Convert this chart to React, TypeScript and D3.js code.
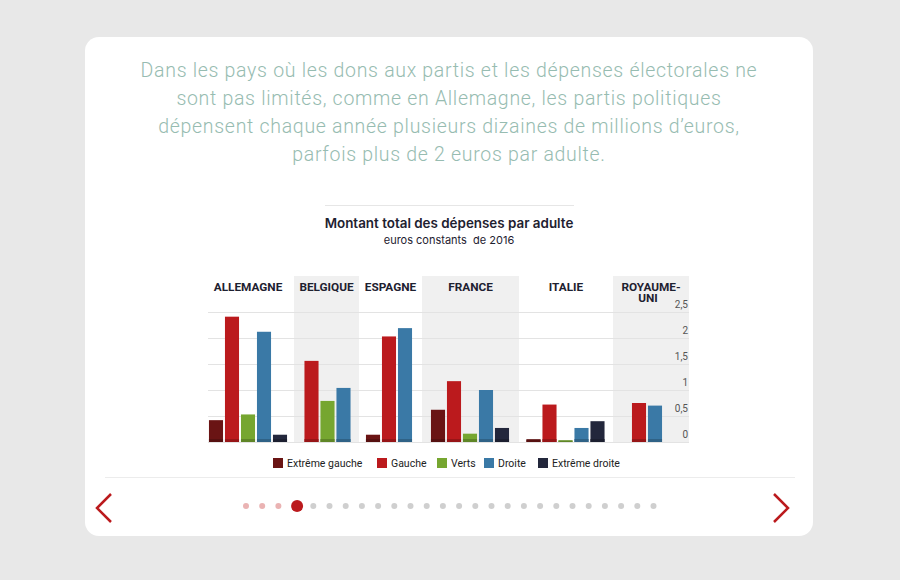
import React, { useEffect, useRef } from 'react'
import * as d3 from 'd3'

// Dépenses par adulte (euros constants de 2016), null = pas de parti de cette famille
const countries = ['ALLEMAGNE', 'BELGIQUE', 'ESPAGNE', 'FRANCE', 'ITALIE', 'ROYAUME-UNI']
const series = ['Extrême gauche', 'Gauche', 'Verts', 'Droite', 'Extrême droite']
const extremeGauche = [0.42, null, 0.14, 0.62, 0.05, null]
const gauche = [2.41, 1.56, 2.03, 1.17, 0.72, 0.75]
const verts = [0.53, 0.79, null, 0.16, 0.03, null]
const droite = [2.12, 1.04, 2.19, 1.0, 0.27, 0.7]
const extremeDroite = [0.14, null, null, 0.27, 0.4, null]
const yTicks = [0, 0.5, 1, 1.5, 2, 2.5]

const colors = ['#6a1414', '#bb1a1d', '#76a630', '#3a79a6', '#23273c']
const values = [extremeGauche, gauche, verts, droite, extremeDroite]

// panel layout (x pixels)
const panelEdges = [202, 294, 359, 422, 519, 613, 689]
const barCenters = [248, 327.5, 389, 470, 565.5, 647]

const W = 900
const H = 580

const Chart = () => {
  const ref = useRef<SVGSVGElement>(null)

  useEffect(() => {
    const svg = d3.select(ref.current)
    svg.selectAll('*').remove()

    svg.append('rect').attr('width', W).attr('height', H).attr('fill', '#e8e8e8')
    svg
      .append('rect')
      .attr('x', 85)
      .attr('y', 37)
      .attr('width', 728)
      .attr('height', 499)
      .attr('rx', 14)
      .attr('fill', '#ffffff')

    // Intro text
    const intro = [
      'Dans les pays où les dons aux partis et les dépenses électorales ne',
      'sont pas limités, comme en Allemagne, les partis politiques',
      'dépensent chaque année plusieurs dizaines de millions d’euros,',
      'parfois plus de 2 euros par adulte.',
    ]
    svg
      .append('g')
      .selectAll('text')
      .data(intro)
      .join('text')
      .attr('x', 449)
      .attr('y', (d, i) => 77 + i * 28)
      .attr('text-anchor', 'middle')
      .style('font-family', 'Roboto, sans-serif')
      .style('font-weight', 300)
      .style('font-size', '19.5px')
      .style('letter-spacing', '0.7px')
      .style('fill', '#97bcb1')
      .text(d => d)

    // Title block
    svg
      .append('line')
      .attr('x1', 325)
      .attr('x2', 574)
      .attr('y1', 205.5)
      .attr('y2', 205.5)
      .style('stroke', '#e6e6e6')
    svg
      .append('text')
      .attr('x', 449)
      .attr('y', 228)
      .attr('text-anchor', 'middle')
      .style('font-family', 'Inter, sans-serif')
      .style('font-weight', 600)
      .style('font-size', '13.4px')
      .style('fill', '#1e2130')
      .text('Montant total des dépenses par adulte')
    svg
      .append('text')
      .attr('x', 449)
      .attr('y', 244)
      .attr('text-anchor', 'middle')
      .style('font-family', 'Inter, sans-serif')
      .style('font-size', '11px')
      .style('fill', '#1e2130')
      .style('white-space', 'pre')
      .text('euros constants  de 2016')

    const top = 276
    const y = d3.scaleLinear().domain([0, 2.5]).range([442, 312])

    // Shaded panels
    svg
      .append('g')
      .selectAll('rect')
      .data(countries)
      .join('rect')
      .attr('x', (d, i) => panelEdges[i])
      .attr('y', top)
      .attr('width', (d, i) => panelEdges[i + 1] - panelEdges[i])
      .attr('height', y(0) - top)
      .attr('fill', (d, i) => (i % 2 === 1 ? '#f0f0f0' : 'none'))

    // Grid
    svg
      .append('g')
      .selectAll('line')
      .data(yTicks)
      .join('line')
      .attr('x1', 208)
      .attr('x2', 689)
      .attr('y1', d => Math.round(y(d)) + 0.5)
      .attr('y2', d => Math.round(y(d)) + 0.5)
      .style('stroke', '#e3e3e3')

    // Headers
    const headers = svg.append('g')
    countries.forEach((c, i) => {
      const lines = c === 'ROYAUME-UNI' ? ['ROYAUME-', 'UNI'] : [c]
      lines.forEach((l, j) => {
        headers
          .append('text')
          .attr('x', (panelEdges[i] + panelEdges[i + 1]) / 2 - (j === 1 ? 3 : 0))
          .attr('y', 291 + j * 11)
          .attr('text-anchor', 'middle')
          .style('font-family', 'Roboto, sans-serif')
          .style('font-weight', 700)
          .style('font-size', '11.8px')
          .style('fill', '#1e2130')
          .text(l)
      })
    })

    // Bars
    const barsG = svg.append('g')
    countries.forEach((c, i) => {
      const present = series.filter((s, k) => values[k][i] != null)
      const x = d3
        .scaleBand()
        .domain(present)
        .range([barCenters[i] - present.length * 8, barCenters[i] + present.length * 8])
        .paddingInner(0.12)
        .paddingOuter(0.06)
      present.forEach(s => {
        const k = series.indexOf(s)
        const v = values[k][i] as number
        const g = barsG.append('g')
        g.append('rect')
          .attr('x', x(s)!)
          .attr('y', y(v))
          .attr('width', x.bandwidth())
          .attr('height', y(0) - y(v))
          .attr('fill', colors[k])
        g.append('rect')
          .attr('x', x(s)!)
          .attr('y', y(0) - Math.min(3, y(0) - y(v)))
          .attr('width', x.bandwidth())
          .attr('height', Math.min(3, y(0) - y(v)))
          .attr('fill', d3.color(colors[k])!.darker(0.6).toString())
      })
    })

    // Y axis labels
    svg
      .append('g')
      .selectAll('text')
      .data(yTicks)
      .join('text')
      .attr('x', 688)
      .attr('y', d => y(d) - 4)
      .attr('text-anchor', 'end')
      .style('font-family', 'Roboto, sans-serif')
      .style('font-size', '10px')
      .style('fill', '#555')
      .text(d => d3.format('.1~f')(d).replace('.', ','))

    // Legend
    const legendX = [273, 377, 437, 484, 538]
    const legend = svg
      .append('g')
      .selectAll('g')
      .data(series)
      .join('g')
      .attr('transform', (d, i) => `translate(${legendX[i]}, 458)`)
    legend
      .append('rect')
      .attr('width', 10)
      .attr('height', 10)
      .attr('fill', (d, i) => colors[i])
    legend
      .append('text')
      .attr('x', 14)
      .attr('y', 9)
      .style('font-family', 'Roboto, sans-serif')
      .style('font-size', '10.5px')
      .style('fill', '#222')
      .text(d => d)

    svg
      .append('line')
      .attr('x1', 105)
      .attr('x2', 795)
      .attr('y1', 477.5)
      .attr('y2', 477.5)
      .style('stroke', '#ececec')

    // Pager
    const dots = d3.range(26)
    svg
      .append('g')
      .selectAll('circle')
      .data(dots)
      .join('circle')
      .attr('cx', d => 246 + d * 16.2 + (d >= 3 ? 2.5 : 0))
      .attr('cy', 506)
      .attr('r', d => (d === 3 ? 6 : 3))
      .attr('fill', d => (d < 3 ? '#eab3b3' : d === 3 ? '#bb1a1d' : '#cfcfcf'))

    const arrow = d3.line()
    svg
      .append('path')
      .attr('d', arrow([[111, 494], [97, 508], [111, 522]]))
      .attr('fill', 'none')
      .style('stroke', '#bb1a1d')
      .style('stroke-width', 2.5)
    svg
      .append('path')
      .attr('d', arrow([[774, 494], [788, 508], [774, 522]]))
      .attr('fill', 'none')
      .style('stroke', '#bb1a1d')
      .style('stroke-width', 2.5)
  }, [])

  return <svg ref={ref} width={W} height={H} style={{ display: 'block' }} />
}

export default function App() {
  return (
    <div style={{ position: 'fixed', left: 0, top: 0 }}>
      <Chart />
    </div>
  )
}
